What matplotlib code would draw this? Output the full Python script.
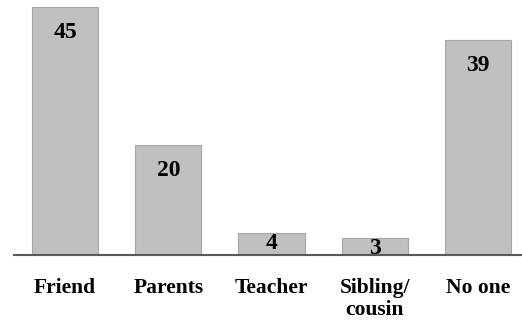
import matplotlib
matplotlib.use("Agg")
import matplotlib.pyplot as plt
import numpy as np

categories = ["Friend", "Parents", "Teacher", "Sibling/\ncousin", "No one"]
counts = [45, 20, 4, 3, 39]

plt.rcParams["font.family"] = ["Liberation Serif", "DejaVu Serif"]

fig = plt.figure(figsize=(5.22, 3.24), dpi=100)
ax = fig.add_axes([0, 0, 1, 1])

x = np.arange(len(categories))
ax.bar(x, counts, width=0.64, color="#c0c0c0", edgecolor="#a6a6a6", linewidth=0.8, zorder=2)

# values sit inside the top of each bar; short bars get the label flush with the top
for xi, v in zip(x, counts):
    off = -15 if v > 10 else 0
    ax.annotate(str(v), (xi, v), xytext=(0, off), textcoords="offset pixels",
                ha="center", va="top", fontsize=17, fontweight="bold", color="black", zorder=3)

# category labels under the baseline
for xi, lab in zip(x, categories):
    ax.text(xi, -4.3, lab, ha="center", va="top", fontsize=15.5, fontweight="bold",
            linespacing=1.1, color="black")

ax.hlines(0, -0.504, 4.5, color="#595959", linewidth=1.5, zorder=4)
ax.set_xlim(-0.63, 4.426)
ax.set_ylim(-12.6, 46.27)
ax.axis("off")

fig.savefig("out.png", dpi=100, facecolor="white")
